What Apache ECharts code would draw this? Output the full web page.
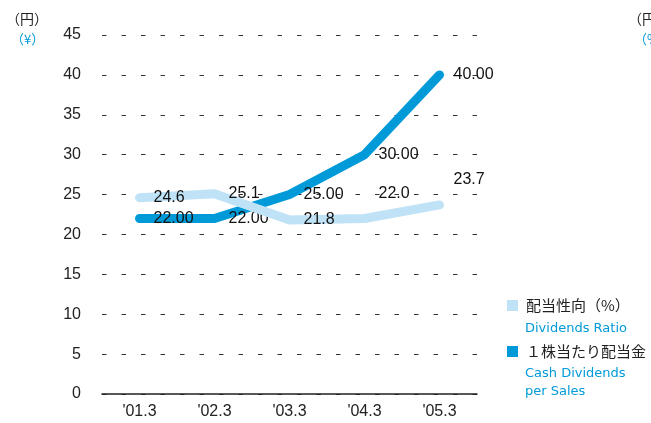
<!DOCTYPE html>
<html><head><meta charset="utf-8">
<script src="https://cdn.jsdelivr.net/npm/echarts@6/dist/echarts.min.js"></script>
<style>html,body{margin:0;padding:0;background:#fff}#c{width:651px;height:423px}</style>
</head><body><div id="c"></div>
<script>
var categories = ["'01.3", "'02.3", "'03.3", "'04.3", "'05.3"];
var cashDividends = [22.00, 22.00, 25.00, 30.00, 40.00];
var dividendRatio = [24.6, 25.1, 21.8, 22.0, 23.7];
var cashLabels = ["22.00", "22.00", "25.00", "30.00", "40.00"];
var ratioLabels = ["24.6", "25.1", "21.8", "22.0", "23.7"];
var yTicks = [0, 5, 10, 15, 20, 25, 30, 35, 40, 45];

var cashLabelPos = [[15, 1], [15, 1], [15, 1], [15, 1], [15, 1]];
var ratioLabelPos = [[15, 1], [15, 1], [15, 1], [15, -24], [15, -24]];

var darkBlue = '#009ad9';
var lightBlue = '#bfe2f6';
var numFont = '"Liberation Sans", Arial, sans-serif';
var enFont = '"DejaVu Sans", sans-serif';
var jpFont = '"Noto Sans CJK JP", sans-serif';

function mk(vals, labels, pos) {
  return vals.map(function (v, i) {
    return { value: v, label: { formatter: labels[i], position: pos[i], verticalAlign: 'middle', align: 'left' } };
  });
}

var chart = echarts.init(document.getElementById('c'), null, { renderer: 'canvas' });
chart.setOption({
  animation: false,
  grid: { left: 102, right: 174, top: 35, bottom: 29 },
  xAxis: {
    type: 'category', data: categories, boundaryGap: true,
    axisLine: { lineStyle: { color: '#222', width: 1.5 } },
    axisTick: { show: false },
    axisLabel: { color: '#222', fontSize: 16, fontFamily: numFont, margin: 10 }
  },
  yAxis: {
    type: 'value', min: yTicks[0], max: yTicks[yTicks.length - 1], interval: 5,
    axisLine: { show: false }, axisTick: { show: false },
    axisLabel: { color: '#222', fontSize: 16, fontFamily: numFont, margin: 21 },
    splitLine: { lineStyle: { color: '#333', type: [4.5, 15], width: 1.2 } }
  },
  legend: {
    orient: 'vertical', left: 502, top: 293, itemGap: 31,
    itemWidth: 11, itemHeight: 11, icon: 'rect',
    textStyle: { color: '#222', fontSize: 15, fontFamily: jpFont, padding: [0, 0, 0, 3] },
    data: [
      { name: '配当性向（%）', itemStyle: { color: lightBlue, opacity: 1 } },
      { name: '１株当たり配当金', itemStyle: { color: darkBlue, opacity: 1 } }
    ]
  },
  graphic: [
    { type: 'text', left: 6, top: 12, style: { text: '（円）', fill: '#222', font: '14px ' + jpFont } },
    { type: 'text', left: 11, top: 33, style: { text: '（¥）', fill: darkBlue, font: '13px ' + jpFont } },
    { type: 'text', left: 628, top: 12, style: { text: '（円）', fill: '#222', font: '14px ' + jpFont } },
    { type: 'text', left: 634, top: 33, style: { text: '（%）', fill: darkBlue, font: '13px ' + jpFont } },
    { type: 'text', left: 525, top: 322, style: { text: 'Dividends Ratio', fill: darkBlue, font: '13px ' + enFont } },
    { type: 'text', left: 525, top: 367, style: { text: 'Cash Dividends', fill: darkBlue, font: '13px ' + enFont } },
    { type: 'text', left: 525, top: 385, style: { text: 'per Sales', fill: darkBlue, font: '13px ' + enFont } }
  ],
  series: [
    {
      name: '１株当たり配当金', type: 'line', data: mk(cashDividends, cashLabels, cashLabelPos),
      symbol: 'circle', symbolSize: 2, showSymbol: true, itemStyle: { color: darkBlue }, color: darkBlue,
      lineStyle: { color: darkBlue, width: 9, cap: 'round', join: 'round' },
      label: { show: true, color: '#111', fontSize: 16, fontFamily: numFont },
      labelLayout: { hideOverlap: false },
      z: 2
    },
    {
      name: '配当性向（%）', type: 'line', data: mk(dividendRatio, ratioLabels, ratioLabelPos),
      symbol: 'circle', symbolSize: 2, showSymbol: true, itemStyle: { color: lightBlue }, color: lightBlue,
      lineStyle: { color: lightBlue, width: 9, cap: 'round', join: 'round' },
      label: { show: true, color: '#111', fontSize: 16, fontFamily: numFont },
      labelLayout: { hideOverlap: false },
      z: 3
    }
  ]
});
</script></body></html>
